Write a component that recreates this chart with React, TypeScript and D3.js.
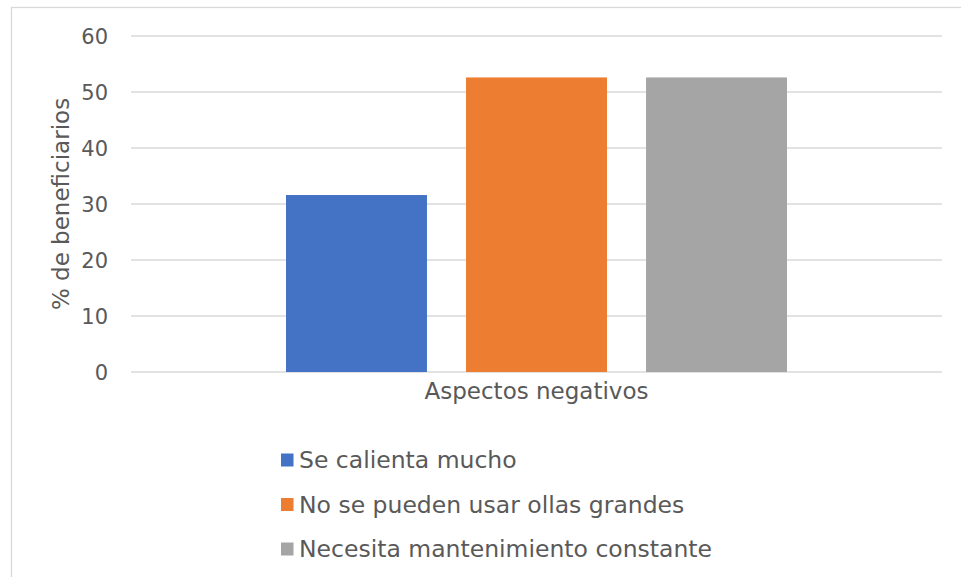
import React from "react";
import * as d3 from "d3";

const categories = ["Aspectos negativos"];
const seriesNames = [
  "Se calienta mucho",
  "No se pueden usar ollas grandes",
  "Necesita mantenimiento constante",
];
const seriesValues = [31.6, 52.6, 52.6];
const seriesColors = ["#4472C4", "#ED7D31", "#A5A5A5"];
const yTicks = [0, 10, 20, 30, 40, 50, 60];
const yTitle = "% de beneficiarios";

const W = 961;
const H = 577;
const FONT = "'DejaVu Sans', sans-serif";
const TEXT = "#595959";
const FS = 23;

export default function App() {
  const left = 131;
  const right = 942;
  const top = 36;
  const bottom = 372;

  const y = d3.scaleLinear().domain([0, 60]).range([bottom, top]);
  const x0 = d3.scaleBand().domain(categories).range([left, right]).paddingInner(0).paddingOuter(0.3094);
  const x1 = d3
    .scaleBand()
    .domain(seriesNames)
    .range([0, x0.bandwidth()])
    .paddingInner(0.217)
    .paddingOuter(0);

  return (
    <svg width={W} height={H} style={{ display: "block", position: "absolute", left: 0, top: 0 }}>
      <rect x={0} y={0} width={W} height={H} fill="#fff" />
      <rect x={11.5} y={7.5} width={W + 20} height={H + 20} fill="none" stroke="#d9d9d9" strokeWidth={1.3} />
      {yTicks.map((t) => (
        <g key={t}>
          <line x1={left} x2={right} y1={y(t)} y2={y(t)} stroke="#d9d9d9" strokeWidth={1.3} />
          <text
            x={108}
            y={y(t)}
            dy="0.36em"
            textAnchor="end"
            fontFamily={FONT}
            fontSize={21}
            fill={TEXT}
          >
            {t}
          </text>
        </g>
      ))}
      {categories.map((c) => (
        <g key={c}>
          {seriesNames.map((s, i) => (
            <rect
              key={s}
              x={(x0(c) as number) + (x1(s) as number)}
              y={y(seriesValues[i])}
              width={x1.bandwidth()}
              height={y(0) - y(seriesValues[i])}
              fill={seriesColors[i]}
            />
          ))}
          <text
            x={(x0(c) as number) + x0.bandwidth() / 2}
            y={399}
            textAnchor="middle"
            fontFamily={FONT}
            fontSize={FS}
            fill={TEXT}
          >
            {c}
          </text>
        </g>
      ))}
      <text
        transform={`translate(69,${(top + bottom) / 2}) rotate(-90)`}
        textAnchor="middle"
        fontFamily={FONT}
        fontSize={FS}
        fill={TEXT}
      >
        {yTitle}
      </text>
      {seriesNames.map((s, i) => (
        <g key={s} transform={`translate(281,${460 + i * 44.5})`}>
          <rect x={0} y={-6.5} width={12.5} height={13} fill={seriesColors[i]} />
          <text x={18} y={0} dy="0.36em" fontFamily={FONT} fontSize={23.5} fill={TEXT}>
            {s}
          </text>
        </g>
      ))}
    </svg>
  );
}
